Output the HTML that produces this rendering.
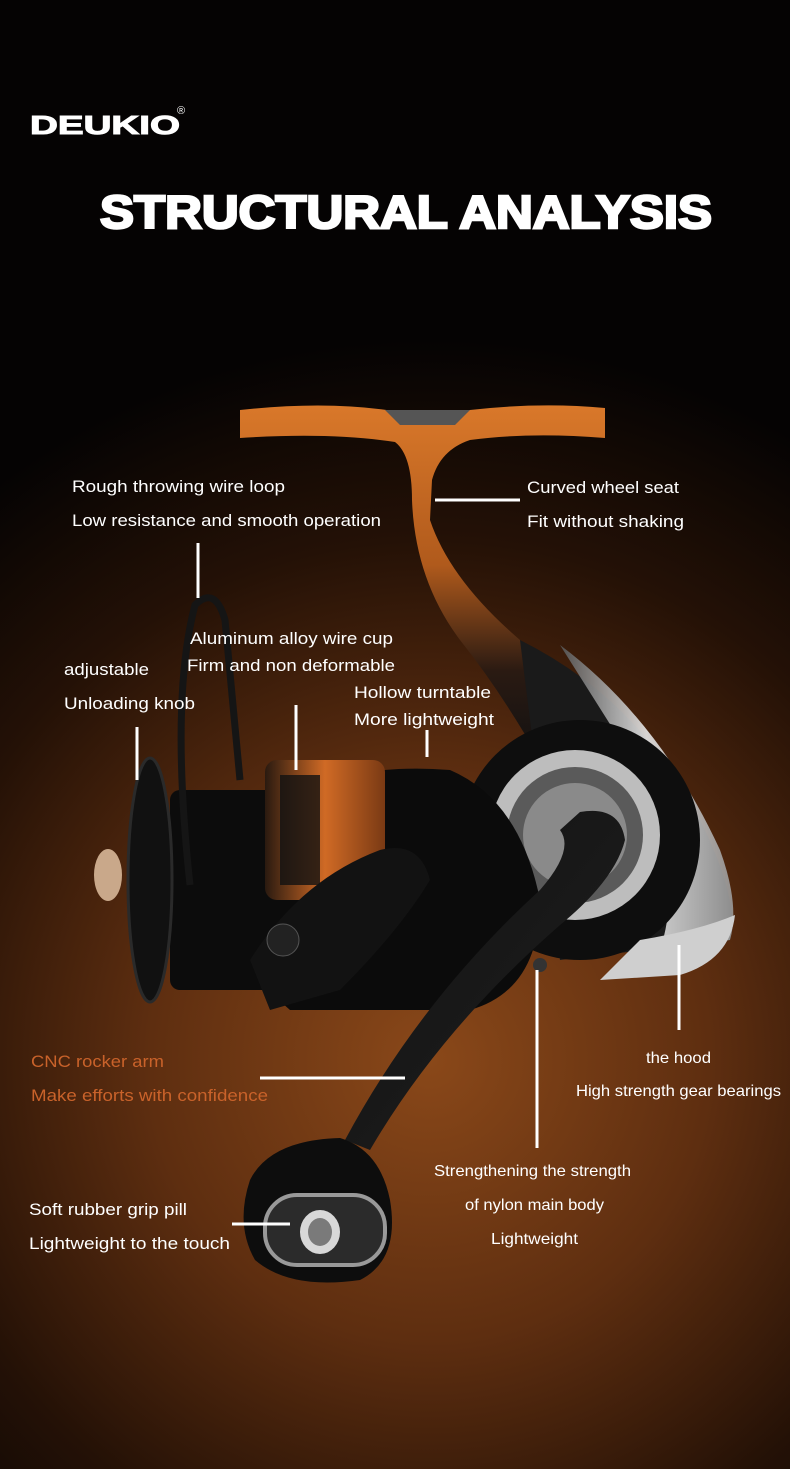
<!DOCTYPE html>
<html><head><meta charset="utf-8"><style>
html,body{margin:0;padding:0;background:#000;}
svg{display:block;}
text{font-family:"Liberation Sans",sans-serif;}
</style></head><body>
<svg width="790" height="1469" viewBox="0 0 790 1469" xmlns="http://www.w3.org/2000/svg">
<defs>
<radialGradient id="bg" cx="430" cy="1060" r="800" gradientUnits="userSpaceOnUse">
<stop offset="0" stop-color="#8a4819"/>
<stop offset="0.35" stop-color="#5e2e10"/>
<stop offset="0.65" stop-color="#241106"/>
<stop offset="0.9" stop-color="#050303"/>
</radialGradient>
<linearGradient id="arm" x1="0" y1="0" x2="0" y2="1">
<stop offset="0" stop-color="#d9782a"/>
<stop offset="0.45" stop-color="#b05a1c"/>
<stop offset="0.75" stop-color="#2a1a12"/>
<stop offset="1" stop-color="#111"/>
</linearGradient>
<linearGradient id="handle" x1="0" y1="0" x2="1" y2="1">
<stop offset="0" stop-color="#111"/>
<stop offset="0.6" stop-color="#1a1a1a"/>
<stop offset="1" stop-color="#c76220"/>
</linearGradient>
<linearGradient id="silver" x1="0" y1="0" x2="1" y2="0">
<stop offset="0" stop-color="#555"/>
<stop offset="0.5" stop-color="#e8e8e8"/>
<stop offset="1" stop-color="#9a9a9a"/>
</linearGradient>
<linearGradient id="spool" x1="0" y1="0" x2="1" y2="0">
<stop offset="0" stop-color="#2a1a10"/>
<stop offset="0.5" stop-color="#d06a25"/>
<stop offset="1" stop-color="#7a3a14"/>
</linearGradient>
</defs>
<rect width="790" height="1469" fill="url(#bg)"/>

<text x="30" y="134" font-size="26" font-weight="900" fill="#fff" stroke="#fff" stroke-width="1" textLength="150" lengthAdjust="spacingAndGlyphs">DEUKIO</text>
<text x="177" y="114" font-size="11" fill="#fff">®</text>
<text x="100" y="228" font-size="46" font-weight="900" fill="#fff" stroke="#fff" stroke-width="2.5" textLength="612" lengthAdjust="spacingAndGlyphs">STRUCTURAL ANALYSIS</text>

<path d="M240 410 Q330 400 400 412 L470 410 Q540 402 605 408 L605 438 Q530 432 470 440 Q440 450 432 480 L430 520 Q450 580 520 640 Q570 690 600 760 L540 760 Q500 690 460 640 Q415 580 412 500 Q412 455 395 442 Q330 432 240 438 Z" fill="url(#arm)"/>
<path d="M385 410 L470 410 L455 425 L400 425 Z" fill="#555"/>
<path d="M520 640 Q640 700 700 820 Q740 900 730 940 L560 960 Z" fill="#1a1a1a"/>
<path d="M560 645 Q660 720 720 850 Q740 905 730 940 L660 950 Q690 860 620 740 Z" fill="url(#silver)" opacity="0.9"/>
<circle cx="580" cy="840" r="120" fill="#0e0e0e"/>
<circle cx="575" cy="835" r="85" fill="#bdbdbd"/>
<circle cx="575" cy="835" r="68" fill="#5a5a5a"/>
<circle cx="575" cy="835" r="52" fill="#8a8a8a"/>
<path d="M640 940 Q700 930 735 915 Q730 960 680 975 L600 980 Z" fill="#cfcfcf"/>
<path d="M240 820 Q330 760 450 770 Q520 800 540 900 Q540 990 470 1010 L290 1010 Q230 960 240 820 Z" fill="#0b0b0b"/>
<rect x="170" y="790" width="110" height="200" rx="10" fill="#0c0c0c"/>
<rect x="265" y="760" width="120" height="140" rx="12" fill="url(#spool)"/>
<rect x="280" y="775" width="40" height="110" fill="#111" opacity="0.8"/>
<ellipse cx="150" cy="880" rx="22" ry="122" fill="#111" stroke="#2a2a2a" stroke-width="3"/>
<ellipse cx="108" cy="875" rx="14" ry="26" fill="#c9a88a"/>
<path d="M250 960 Q300 880 380 850 Q420 840 430 880 Q400 930 340 990 L270 1010 Z" fill="#121212"/>
<circle cx="283" cy="940" r="16" fill="#222" stroke="#555"/>
<path d="M190 885 Q170 700 195 605 Q215 585 225 620 L240 780" fill="none" stroke="#151515" stroke-width="7"/>
<path d="M580 812 Q620 805 625 840 Q615 880 560 925 Q440 1030 370 1150 L345 1140 Q420 1000 540 890 Q575 850 560 830 Z" fill="url(#handle)"/>
<circle cx="540" cy="965" r="7" fill="#333"/>
<path d="M250 1180 Q270 1140 340 1138 Q380 1150 390 1200 Q400 1260 360 1280 Q290 1290 255 1260 Q235 1225 250 1180 Z" fill="#0d0d0d"/>
<rect x="265" y="1195" width="120" height="70" rx="32" fill="#2b2b2b" stroke="#999" stroke-width="4"/>
<ellipse cx="320" cy="1232" rx="20" ry="22" fill="#d8d8d8"/>
<ellipse cx="320" cy="1232" rx="12" ry="14" fill="#7a7a7a"/>

<g stroke="#fff" stroke-width="3">
<line x1="198" y1="543" x2="198" y2="598"/>
<line x1="435" y1="500" x2="520" y2="500"/>
<line x1="137" y1="727" x2="137" y2="780"/>
<line x1="296" y1="705" x2="296" y2="770"/>
<line x1="427" y1="730" x2="427" y2="757"/>
<line x1="679" y1="945" x2="679" y2="1030"/>
<line x1="260" y1="1078" x2="405" y2="1078"/>
<line x1="537" y1="970" x2="537" y2="1148"/>
<line x1="232" y1="1224" x2="290" y2="1224"/>
</g>

<g fill="#fff" font-size="17" lengthAdjust="spacingAndGlyphs">
<text x="72" y="492" textLength="213" lengthAdjust="spacingAndGlyphs">Rough throwing wire loop</text>
<text x="72" y="526" textLength="309" lengthAdjust="spacingAndGlyphs">Low resistance and smooth operation</text>
<text x="527" y="493" textLength="152" lengthAdjust="spacingAndGlyphs">Curved wheel seat</text>
<text x="527" y="527" textLength="157" lengthAdjust="spacingAndGlyphs">Fit without shaking</text>
<text x="190" y="644" textLength="203" lengthAdjust="spacingAndGlyphs">Aluminum alloy wire cup</text>
<text x="187" y="671" textLength="208" lengthAdjust="spacingAndGlyphs">Firm and non deformable</text>
<text x="64" y="675" textLength="85" lengthAdjust="spacingAndGlyphs">adjustable</text>
<text x="64" y="709" textLength="131" lengthAdjust="spacingAndGlyphs">Unloading knob</text>
<text x="354" y="698" textLength="137" lengthAdjust="spacingAndGlyphs">Hollow turntable</text>
<text x="354" y="725" textLength="140" lengthAdjust="spacingAndGlyphs">More lightweight</text>
<text x="646" y="1063" font-size="16" textLength="65" lengthAdjust="spacingAndGlyphs">the hood</text>
<text x="576" y="1096" font-size="16" textLength="205" lengthAdjust="spacingAndGlyphs">High strength gear bearings</text>
<text x="434" y="1176" font-size="16" textLength="197" lengthAdjust="spacingAndGlyphs">Strengthening the strength</text>
<text x="465" y="1210" font-size="16" textLength="139" lengthAdjust="spacingAndGlyphs">of nylon main body</text>
<text x="491" y="1244" font-size="16" textLength="87" lengthAdjust="spacingAndGlyphs">Lightweight</text>
<text x="29" y="1215" textLength="158" lengthAdjust="spacingAndGlyphs">Soft rubber grip pill</text>
<text x="29" y="1249" textLength="201" lengthAdjust="spacingAndGlyphs">Lightweight to the touch</text>
</g>
<g fill="#c9622a" font-size="17">
<text x="31" y="1067" textLength="133" lengthAdjust="spacingAndGlyphs">CNC rocker arm</text>
<text x="31" y="1101" textLength="237" lengthAdjust="spacingAndGlyphs">Make efforts with confidence</text>
</g>
</svg>
</body></html>
